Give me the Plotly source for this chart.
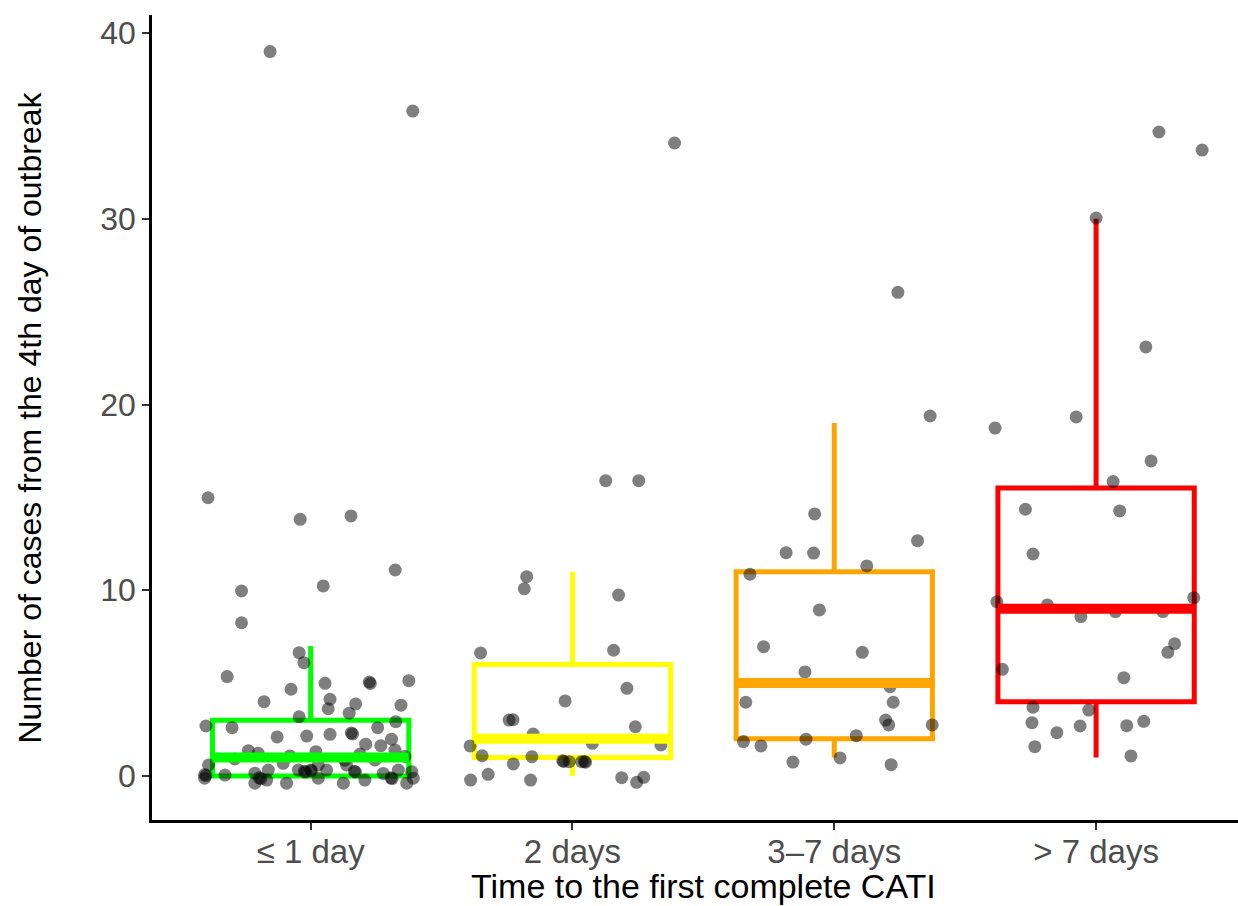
import plotly.graph_objects as go

categories = ["≤ 1 day", "2 days", "3–7 days", "> 7 days"]
box_colors = ["#00FF00", "#FFFF00", "#FFA500", "#FF0000"]

# box statistics (lower whisker, Q1, median, Q3, upper whisker)
lower_whisker = [0, 0, 1, 1]
q1 = [0, 1, 2, 4]
median = [1, 2, 5, 9]
q3 = [3, 6, 11, 15.5]
upper_whisker = [7, 11, 19, 30]

# jittered observations: horizontal jitter offset and (jittered) value
g1_dx = [-0.155, 0.39, -0.392, -0.04, 0.154, 0.323, 0.048, -0.264, -0.264, -0.044,
         -0.026, -0.319, 0.055, 0.224, 0.228, 0.375, -0.075, -0.178, 0.074, 0.067,
         0.172, 0.345, 0.147, -0.044, 0.325, -0.40, -0.30, -0.128, -0.015, 0.074,
         0.155, 0.160, 0.256, 0.309, 0.21, 0.268, -0.238, -0.2, 0.322, 0.02,
         -0.079, 0.188, 0.246, -0.29, 0.13, 0.36,
         -0.39, -0.405, -0.40, -0.405, -0.327, -0.213, -0.213, -0.196, -0.19, -0.162,
         -0.168, -0.105, -0.092, -0.047, -0.024, -0.02, 0.0, 0.003, 0.029, 0.029,
         0.061, 0.125, 0.137, 0.167, 0.171, 0.207, 0.277, 0.307, 0.311, 0.335,
         0.367, 0.392, 0.386]
g1_y = [39.0, 35.8, 14.98, 13.82, 14.0, 11.09, 10.23, 9.96, 8.25, 6.64,
        6.10, 5.35, 4.99, 5.06, 4.98, 5.13, 4.67, 4.0, 4.13, 3.62,
        3.88, 3.81, 3.38, 3.19, 2.92, 2.69, 2.60, 2.10, 2.15, 2.24,
        2.32, 2.26, 2.60, 1.98, 1.71, 1.63, 1.36, 1.22, 1.40, 1.31,
        1.08, 1.18, 0.86, 0.92, 0.85, 1.05,
        0.59, 0.08, 0.02, -0.12, 0.05, 0.15, -0.39, -0.10, -0.15, 0.32,
        -0.22, 0.68, -0.39, 0.32, 0.25, 0.21, 0.32, 0.28, 0.59, -0.12,
        0.32, -0.39, 0.59, 0.25, 0.21, -0.22, 0.14, -0.10, -0.14, 0.32,
        -0.39, -0.12, 0.23]

g2_dx = [0.39, 0.127, 0.253, -0.175, -0.184, 0.176, -0.351, 0.157, 0.208, -0.028,
         -0.242, -0.227, 0.24, -0.15, -0.391, 0.076, 0.338, -0.345, -0.155, -0.226,
         -0.037, -0.033, -0.012, 0.035, 0.046, 0.05, -0.389, -0.322, -0.16, 0.188,
         0.245, 0.272]
g2_y = [34.08, 15.90, 15.90, 10.73, 10.08, 9.74, 6.62, 6.77, 4.72, 4.04,
        3.01, 3.03, 2.65, 2.26, 1.62, 1.76, 1.67, 1.09, 1.04, 0.65,
        0.82, 0.78, 0.77, 0.77, 0.78, 0.74, -0.22, 0.09, -0.22, -0.09,
        -0.34, -0.07]

g3_dx = [0.243, 0.366, -0.075, 0.318, -0.184, -0.079, 0.124, -0.322, -0.057, -0.27,
         0.107, -0.112, 0.213, -0.338, 0.225, 0.196, 0.208, 0.374, -0.347, -0.28,
         -0.108, 0.084, -0.158, 0.022, 0.217]
g3_y = [26.04, 19.38, 14.11, 12.67, 12.02, 12.0, 11.31, 10.86, 8.94, 6.96,
        6.66, 5.60, 4.81, 3.97, 3.97, 3.01, 2.75, 2.75, 1.85, 1.62,
        1.98, 2.17, 0.75, 0.97, 0.61]

g4_dx = [0.405, 0.24, 0.0, 0.19, -0.076, -0.386, 0.21, 0.065, -0.27, 0.09,
         -0.241, -0.379, 0.373, -0.186, -0.058, 0.074, 0.255, 0.3, 0.274, -0.358,
         0.106, -0.241, -0.028, -0.245, -0.061, 0.117, 0.182, -0.15, -0.234, 0.133]
g4_y = [33.7, 34.67, 30.04, 23.1, 19.33, 18.73, 16.96, 15.85, 14.36, 14.27,
        11.95, 9.38, 9.6, 9.21, 8.58, 8.85, 8.85, 7.12, 6.66, 5.74,
        5.29, 3.70, 3.55, 2.87, 2.69, 2.71, 2.94, 2.33, 1.58, 1.08]

groups_dx = [g1_dx, g2_dx, g3_dx, g4_dx]
groups_y = [g1_y, g2_y, g3_y, g4_y]

box_width = 0.75

fig = go.Figure()

# jittered points (drawn under the boxes)
for i, (dx, ys) in enumerate(zip(groups_dx, groups_y)):
    fig.add_trace(go.Scatter(
        x=[i + d for d in dx], y=ys, mode="markers",
        marker=dict(size=13, color="rgba(0,0,0,0.5)", line=dict(width=0)),
        hoverinfo="y", showlegend=False))

# boxes
for i in range(len(categories)):
    fig.add_trace(go.Box(
        x=[i], q1=[q1[i]], median=[median[i]], q3=[q3[i]],
        lowerfence=[lower_whisker[i]], upperfence=[upper_whisker[i]],
        width=box_width, whiskerwidth=0,
        line=dict(color=box_colors[i], width=5),
        fillcolor="rgba(0,0,0,0)", boxpoints=False, showlegend=False))
    # thicker median bar like ggplot
    fig.add_trace(go.Scatter(
        x=[i - box_width / 2, i + box_width / 2], y=[median[i], median[i]],
        mode="lines", line=dict(color=box_colors[i], width=10),
        hoverinfo="skip", showlegend=False))

font_family = "Liberation Sans, Arial, Helvetica, sans-serif"

fig.update_layout(
    width=1238, height=906,
    margin=dict(l=152, r=0, t=15, b=86),
    paper_bgcolor="white", plot_bgcolor="white",
    font=dict(family=font_family),
    xaxis=dict(
        range=[-0.606, 3.542], tickmode="array",
        tickvals=list(range(len(categories))), ticktext=categories,
        showgrid=False, zeroline=False,
        showline=True, linecolor="black", linewidth=2.5,
        ticks="outside", ticklen=7, tickwidth=2, tickcolor="#333333",
        ticklabelstandoff=-6,
        tickfont=dict(size=33, color="#4D4D4D", family=font_family),
    ),
    yaxis=dict(
        range=[-2.37, 40.97], tickmode="array", tickvals=[0, 10, 20, 30, 40],
        showgrid=False, zeroline=False,
        showline=True, linecolor="black", linewidth=2.5,
        ticks="outside", ticklen=7, tickwidth=2, tickcolor="#333333",
        tickfont=dict(size=32, color="#4D4D4D", family=font_family),
    ),
    annotations=[
        dict(text="Time to the first complete CATI", x=1.5, xref="x",
             y=0, yref="paper", yshift=-66, yanchor="middle", showarrow=False,
             font=dict(size=34, color="black", family=font_family)),
        dict(text="Number of cases from the 4th day of outbreak", x=0, xref="paper",
             xshift=-123, y=0.5, yref="paper", textangle=-90, xanchor="center",
             showarrow=False,
             font=dict(size=32, color="black", family=font_family)),
    ],
)

fig.write_html("out.html")
